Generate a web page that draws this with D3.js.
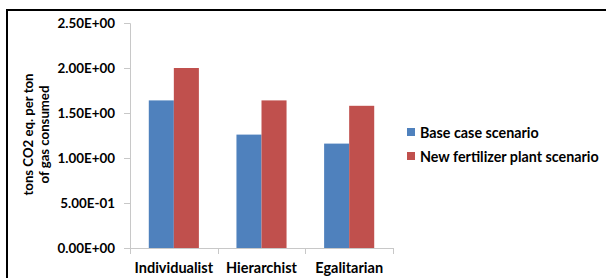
<!DOCTYPE html>
<html>
<head>
<meta charset="utf-8">
<script src="https://cdn.jsdelivr.net/npm/d3@7"></script>
<style>
  body { margin:0; background:#fff; }
  svg text { font-family: Lato, "Open Sans", sans-serif; font-weight:bold; fill:#000; }
</style>
</head>
<body>
<svg id="chart"></svg>
<script>
// chart data
var categories = ["Individualist", "Hierarchist", "Egalitarian"];
var seriesNames = ["Base case scenario", "New fertilizer plant scenario"];
var baseCase = [1.64, 1.26, 1.16];
var newPlant = [2.00, 1.64, 1.58];
var yTicks = [0, 0.5, 1.0, 1.5, 2.0, 2.5];
var colors = ["#4F81BD", "#C0504D"];

var screen = {width:606, height:278};
var margins = {left:130, right:213, top:23, bottom:30};
var graph = {
    width: screen.width - margins.left - margins.right,
    height: screen.height - margins.top - margins.bottom
};

var svg = d3.select("#chart")
    .attr("width", screen.width)
    .attr("height", screen.height);

// outer frame (only top + left visible in the crop)
svg.append("path")
    .attr("d", "M7," + screen.height + " V10 H" + screen.width)
    .attr("fill", "none")
    .attr("stroke", "#000")
    .attr("stroke-width", 2);

var xScale = d3.scaleBand()
    .domain(categories)
    .range([0, graph.width]);

var xInner = d3.scaleBand()
    .domain(seriesNames)
    .range([0, xScale.bandwidth()])
    .paddingInner(0)
    .paddingOuter(0.75);

var yScale = d3.scaleLinear()
    .domain([0, 2.5])
    .range([graph.height, 0]);

var target = svg.append("g")
    .attr("transform", "translate(" + margins.left + "," + margins.top + ")");

// axes
var yAxis = d3.axisLeft(yScale)
    .tickValues(yTicks)
    .tickSize(6)
    .tickPadding(9)
    .tickFormat(function(d){
        return d3.format(".2e")(d).replace(/e([+-])(\d)$/, "E$10$2").replace("e", "E");
    });

var yG = target.append("g").call(yAxis);
yG.select(".domain").attr("stroke", "#c8c8c8").attr("d", "M-6,0.5H0.5V" + (graph.height + 0.5));
yG.selectAll(".tick line").attr("stroke", "#c8c8c8");
yG.selectAll(".tick text").style("font-size", "13.4px");

var xG = target.append("g")
    .attr("transform", "translate(0," + graph.height + ")");
xG.append("line")
    .attr("x1", 0).attr("x2", graph.width)
    .attr("y1", 0.5).attr("y2", 0.5)
    .attr("stroke", "#c8c8c8");
// category boundary ticks
xG.selectAll(".sep")
    .data(d3.range(categories.length + 1))
    .enter().append("line")
    .attr("x1", function(i){ return Math.round(i * xScale.step()) + 0.5; })
    .attr("x2", function(i){ return Math.round(i * xScale.step()) + 0.5; })
    .attr("y1", 0).attr("y2", 6)
    .attr("stroke", "#c8c8c8");
xG.selectAll(".cat")
    .data(categories)
    .enter().append("text")
    .attr("x", function(d){ return xScale(d) + xScale.bandwidth() / 2; })
    .attr("y", 25)
    .attr("text-anchor", "middle")
    .style("font-size", "14.5px")
    .text(function(d){ return d; });

// bars
var groups = target.selectAll(".grp")
    .data(categories)
    .enter().append("g")
    .attr("transform", function(d){ return "translate(" + xScale(d) + ",0)"; });

groups.selectAll("rect")
    .data(function(d, i){
        return [{s:seriesNames[0], v:baseCase[i], c:colors[0]},
                {s:seriesNames[1], v:newPlant[i], c:colors[1]}];
    })
    .enter().append("rect")
    .attr("x", function(d){ return xInner(d.s); })
    .attr("width", xInner.bandwidth())
    .attr("y", function(d){ return yScale(d.v); })
    .attr("height", function(d){ return graph.height - yScale(d.v); })
    .attr("fill", function(d){ return d.c; });

// y label
var ylab = svg.append("text")
    .attr("transform", "translate(36," + (margins.top + graph.height / 2 - 1) + ") rotate(-90)")
    .attr("text-anchor", "middle")
    .style("font-size", "13.2px");
ylab.append("tspan").attr("x", 0).attr("dy", "-0.2em").text("tons CO2 eq. per ton");
ylab.append("tspan").attr("x", 0).attr("dy", "1.15em").text("of gas consumed");

// legend
var legend = svg.append("g")
    .attr("transform", "translate(407,128)");
var items = legend.selectAll("g")
    .data(seriesNames)
    .enter().append("g")
    .attr("transform", function(d, i){ return "translate(0," + (i * 24) + ")"; });
items.append("rect")
    .attr("width", 8).attr("height", 8)
    .attr("y", 0)
    .attr("fill", function(d, i){ return colors[i]; });
items.append("text")
    .attr("x", 13)
    .attr("y", 9.5)
    .style("font-size", "14.3px")
    .text(function(d){ return d; });
</script>
</body>
</html>
